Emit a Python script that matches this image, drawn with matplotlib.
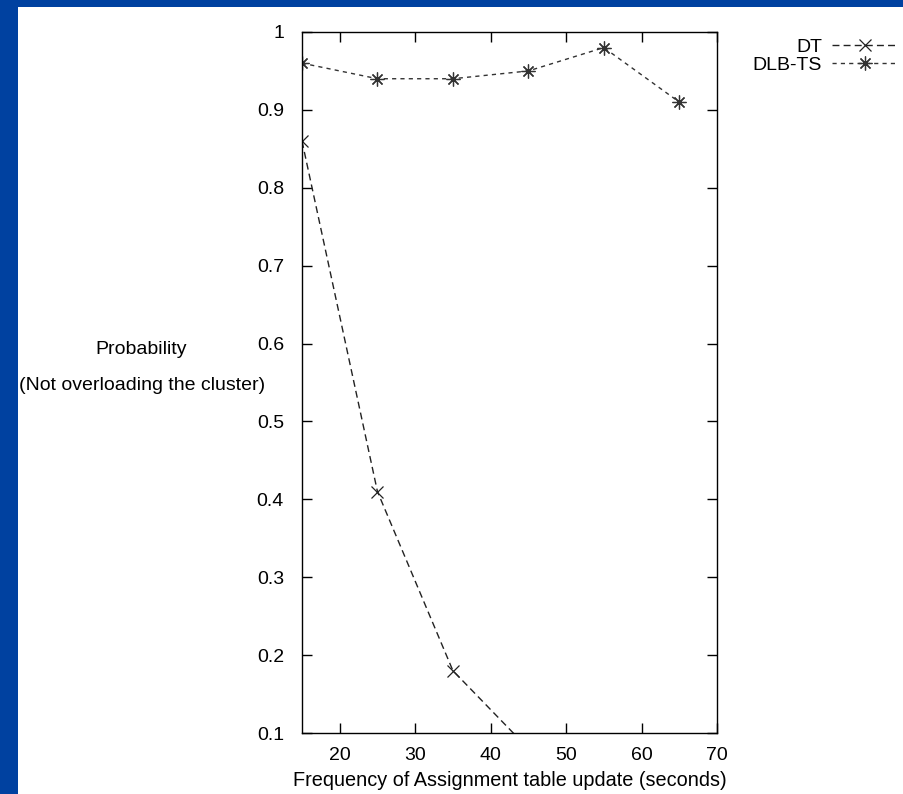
import matplotlib
matplotlib.use("Agg")
import matplotlib.pyplot as plt
from matplotlib.patches import Rectangle

plt.rcParams["font.family"] = ["Liberation Sans", "DejaVu Sans"]

# update interval (seconds) and probability of not overloading the cluster
intervals = [15, 25, 35, 45, 55, 65]
dt_prob = [0.86, 0.41, 0.18, 0.08, 0.05, 0.03]
dlbts_prob = [0.96, 0.94, 0.94, 0.95, 0.98, 0.91]

x_ticks = [20, 30, 40, 50, 60, 70]
y_ticks = [0.1, 0.2, 0.3, 0.4, 0.5, 0.6, 0.7, 0.8, 0.9, 1.0]
y_tick_labels = ["0.1", "0.2", "0.3", "0.4", "0.5", "0.6", "0.7", "0.8", "0.9", "1"]

W, H = 904, 794
fig = plt.figure(figsize=(W / 100, H / 100), dpi=100)
fig.patch.set_facecolor("white")

# slide frame: blue band on the left and top
blue = "#0041a0"
fig.patches.append(Rectangle((0, 0), 18 / W, 1, transform=fig.transFigure,
                             facecolor=blue, edgecolor="none", zorder=0))
fig.patches.append(Rectangle((0, 1 - 7 / H), 1, 7 / H, transform=fig.transFigure,
                             facecolor=blue, edgecolor="none", zorder=0))

ax = fig.add_axes([302 / W, 61 / H, 415 / W, 701 / H])

ax.plot(intervals, dt_prob, color="#222222", linewidth=1.0,
        linestyle=(0, (5, 3)), marker="x", markersize=8,
        markeredgewidth=0.9, label="DT")
ax.plot(intervals, dlbts_prob, color="#333333", linewidth=1.0,
        linestyle=(0, (3, 3)), marker=(8, 2, 0), markersize=10,
        markeredgewidth=0.9, label="DLB-TS")

ax.set_xlim(15, 70)
ax.set_ylim(0.1, 1.0)
ax.set_xticks(x_ticks)
ax.set_yticks(y_ticks)
ax.set_yticklabels(y_tick_labels)
ax.tick_params(direction="in", length=7, width=1, top=True, right=True,
               labelsize=14)
ax.tick_params(axis="x", pad=10)
ax.tick_params(axis="y", pad=13)
for s in ax.spines.values():
    s.set_linewidth(1.0)
    s.set_color("black")

ax.set_xlabel("Frequency of Assignment table update (seconds)", fontsize=14.3,
              labelpad=5)
fig.text(141 / W, 1 - 350 / H, "Probability", ha="center", va="center",
         fontsize=14)
fig.text(142 / W, 1 - 385 / H, "(Not overloading the cluster)", ha="center",
         va="center", fontsize=14)

ax.legend(loc="upper right", bbox_to_anchor=(898 / W, 1 - 38 / H),
          bbox_transform=fig.transFigure, frameon=False, markerfirst=False,
          handlelength=3.4, handletextpad=0.5, labelspacing=0.05,
          fontsize=14, borderpad=0, borderaxespad=0)

fig.savefig("out.png", dpi=100)
